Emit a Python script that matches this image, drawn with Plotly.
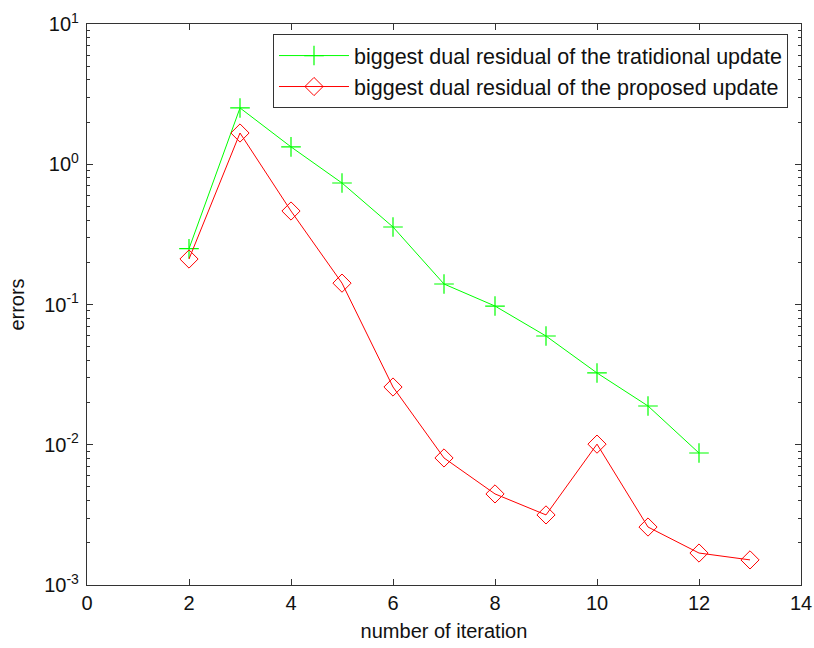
import plotly.graph_objects as go

iter_trad = [2, 3, 4, 5, 6, 7, 8, 9, 10, 11, 12]
res_trad = [0.25, 2.52, 1.33, 0.735, 0.357, 0.14, 0.0975, 0.0596, 0.0325, 0.0189, 0.00873]

iter_prop = [2, 3, 4, 5, 6, 7, 8, 9, 10, 11, 12, 13]
res_prop = [0.211, 1.67, 0.464, 0.142, 0.0258, 0.00805, 0.00446, 0.00316, 0.0101, 0.00259, 0.00169, 0.00151]

x_ticks = [0, 2, 4, 6, 8, 10, 12, 14]
y_tickvals = [1e-3, 1e-2, 1e-1, 1e0, 1e1]
y_ticktext = ["10<sup>-3</sup>", "10<sup>-2</sup>", "10<sup>-1</sup>", "10<sup>0</sup>", "10<sup>1</sup>"]

fig = go.Figure()
fig.add_trace(go.Scatter(
    x=iter_trad, y=res_trad, mode="lines+markers",
    name="biggest dual residual of the tratidional update",
    line=dict(color="#00ff00", width=1),
    marker=dict(symbol="cross-thin-open", size=14, line=dict(color="#00ff00", width=1.2)),
))
fig.add_trace(go.Scatter(
    x=iter_prop, y=res_prop, mode="lines+markers",
    name="biggest dual residual of the proposed update",
    line=dict(color="#ff0000", width=1),
    marker=dict(symbol="diamond-open", size=14, color="#ff0000", line=dict(color="#ff0000", width=1)),
))

axis_common = dict(
    showline=True, linecolor="#333333", linewidth=1.2, mirror="ticks",
    ticks="inside", ticklen=6, tickcolor="#333333", showgrid=False, zeroline=False,
    automargin=False,
    tickfont=dict(family="Liberation Sans, Arial", size=20, color="#111111"),
)

fig.update_layout(
    width=814, height=648,
    margin=dict(l=87, r=13, t=24, b=63),
    paper_bgcolor="white", plot_bgcolor="white",
    font=dict(family="Liberation Sans, Arial", color="#111111"),
    xaxis=dict(range=[0, 14], tickvals=x_ticks,
               title=dict(text="number of iteration", font=dict(size=20), standoff=10),
               **axis_common),
    yaxis=dict(type="log", range=[-3, 1], tickvals=y_tickvals, ticktext=y_ticktext,
               ticklabelstandoff=3,
               minor=dict(ticks="inside", ticklen=3, tickcolor="#333333",
                          tickvals=[m * 10 ** e for e in range(-3, 1) for m in range(2, 10)]),
               title=dict(text="errors", font=dict(size=20), standoff=14),
               **axis_common),
    legend=dict(x=0.2605, y=0.982, xanchor="left", yanchor="top",
                bordercolor="#333333", borderwidth=1, bgcolor="white",
                font=dict(size=21.5, family="Liberation Sans, Arial"),
                tracegroupgap=0, itemwidth=70),
    showlegend=True,
)

fig.write_html("out.html", config={"displayModeBar": False},
               post_script="document.body.style.margin='0';document.body.style.overflow='hidden';")
